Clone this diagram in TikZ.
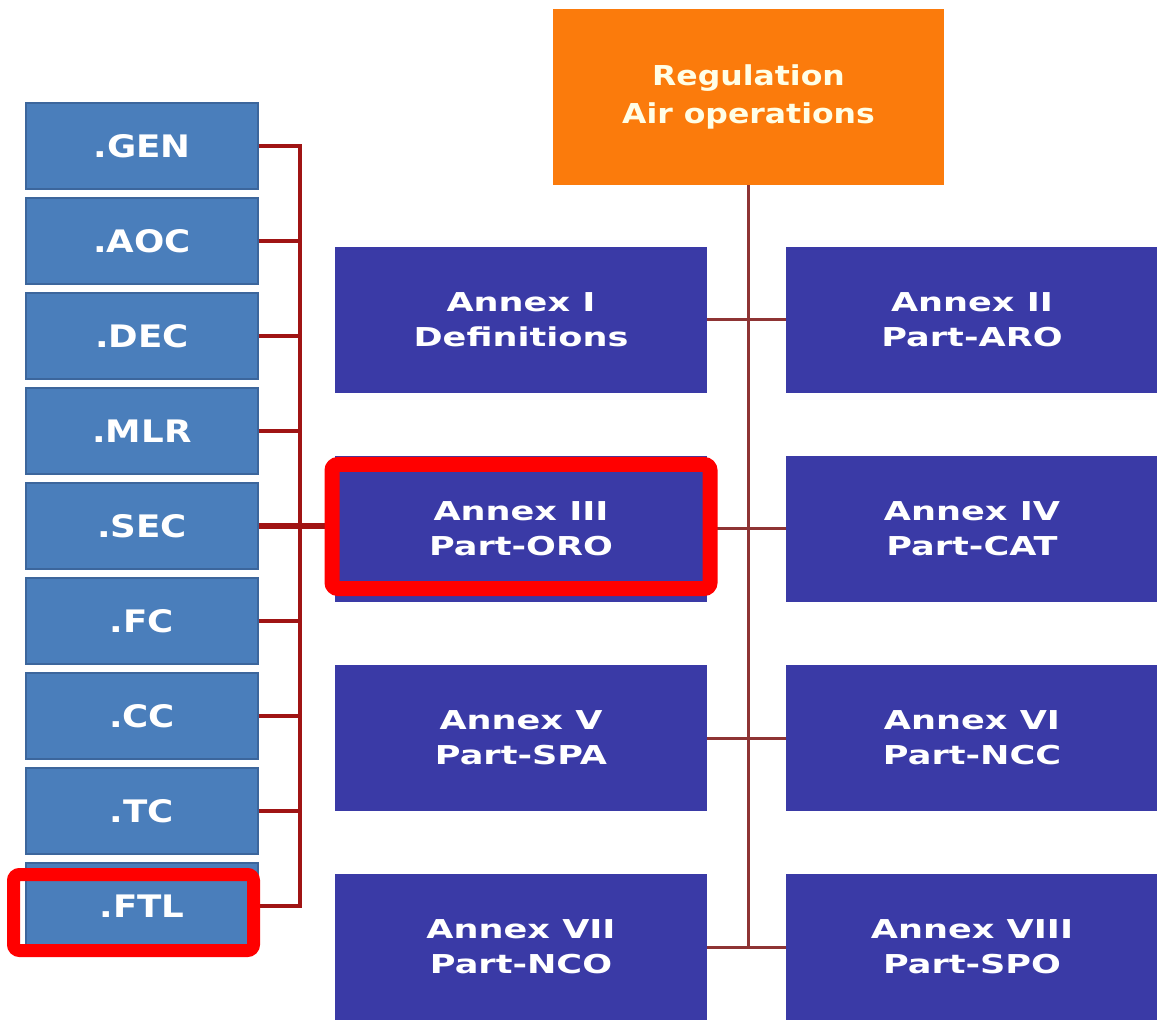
\documentclass[tikz,border=0pt]{standalone}
\usepackage{fontspec}
\usepackage{tikz}
\usetikzlibrary{shapes,arrows}
\usetikzlibrary{positioning,fit,calc}
\newfontfamily\boxfont[FakeStretch=1.15]{DejaVu Sans}
\newfontfamily\annexfont[FakeStretch=1.35]{DejaVu Sans}
\definecolor{subblue}{HTML}{4A7EBB}
\definecolor{subedge}{HTML}{3C669C}
\definecolor{annexblue}{HTML}{3A3AA6}
\definecolor{regorange}{HTML}{FB7B0C}
\definecolor{trunkred}{HTML}{8E3434}
\definecolor{brackred}{HTML}{A01414}
\tikzstyle{subpart}=[rectangle, draw=subedge, line width=0.8pt, fill=subblue, text=white, minimum width=116pt, minimum height=43pt, inner sep=0pt, font=\boxfont\bfseries\fontsize{15.5}{18}\selectfont]
\tikzstyle{annex}=[rectangle, fill=annexblue, text=white, minimum width=186pt, minimum height=73pt, inner sep=0pt, align=center, font=\annexfont\bfseries\fontsize{13}{17.5}\selectfont]
\tikzstyle{reg}=[rectangle, fill=regorange, text=white!90!yellow, minimum width=195.5pt, minimum height=88pt, inner sep=0pt, align=center, font=\boxfont\bfseries\fontsize{13.7}{19}\selectfont]
\tikzstyle{hilite}=[rectangle, draw=red, line width=7.5pt, rounded corners=3pt, inner sep=0pt]
\tikzstyle{trunk}=[draw=trunkred, line width=1.5pt]
\tikzstyle{bracket}=[draw=brackred, line width=2.2pt]

\begin{document}
\begin{tikzpicture}[x=0.5pt, y=-0.5pt, node distance=47.5pt]
\useasboundingbox (0,0) rectangle (1157,1021);
\node [reg] (reg) at (748.5,97) {Regulation\\Air operations};

% sub-parts of Part-ORO
\node [subpart] (gen) at (142,146) {.GEN};
\node [subpart, below of=gen] (aoc) {.AOC};
\node [subpart, below of=aoc] (dec) {.DEC};
\node [subpart, below of=dec] (mlr) {.MLR};
\node [subpart, below of=mlr] (sec) {.SEC};
\node [subpart, below of=sec] (fc) {.FC};
\node [subpart, below of=fc] (cc) {.CC};
\node [subpart, below of=cc] (tc) {.TC};
\node [subpart, below of=tc] (ftl) {.FTL};

% annexes
\node [annex] (a1) at (521,320) {Annex I\\Definitions};
\node [annex, right of=a1, node distance=225.5pt] (a2) {Annex II\\Part-ARO};
\node [annex, below of=a1, node distance=104.5pt] (a3) {Annex III\\Part-ORO};
\node [annex, right of=a3, node distance=225.5pt] (a4) {Annex IV\\Part-CAT};
\node [annex, below of=a3, node distance=104.5pt] (a5) {Annex V\\Part-SPA};
\node [annex, right of=a5, node distance=225.5pt] (a6) {Annex VI\\Part-NCC};
\node [annex, below of=a5, node distance=104.5pt] (a7) {Annex VII\\Part-NCO};
\node [annex, right of=a7, node distance=225.5pt] (a8) {Annex VIII\\Part-SPO};

\draw[trunk] (reg.south) -- (reg.south |- a7.east);
\foreach \l/\r in {a1/a2,a3/a4,a5/a6,a7/a8}
  \draw[trunk] (\l.east) -- (\r.west);

\coordinate (brk) at (300,146);
\draw[bracket] (gen.east) -- (gen.east -| brk) |- (ftl.east);
\foreach \n in {aoc,dec,mlr,fc,cc,tc}
  \draw[bracket] (\n.east) -- (\n.east -| brk);
\draw[bracket, line width=3pt] (sec.east) -- (sec.east -| a3.west);

% highlights
\node [hilite, minimum width=189pt, minimum height=62pt] (orohl) at ([yshift=1.25pt]a3) {};
\node [hilite, line width=6.5pt, minimum width=120pt, minimum height=38pt] (ftlhl) at ([xshift=-4.25pt,yshift=-3.25pt]ftl) {};
\end{tikzpicture}
\end{document}
